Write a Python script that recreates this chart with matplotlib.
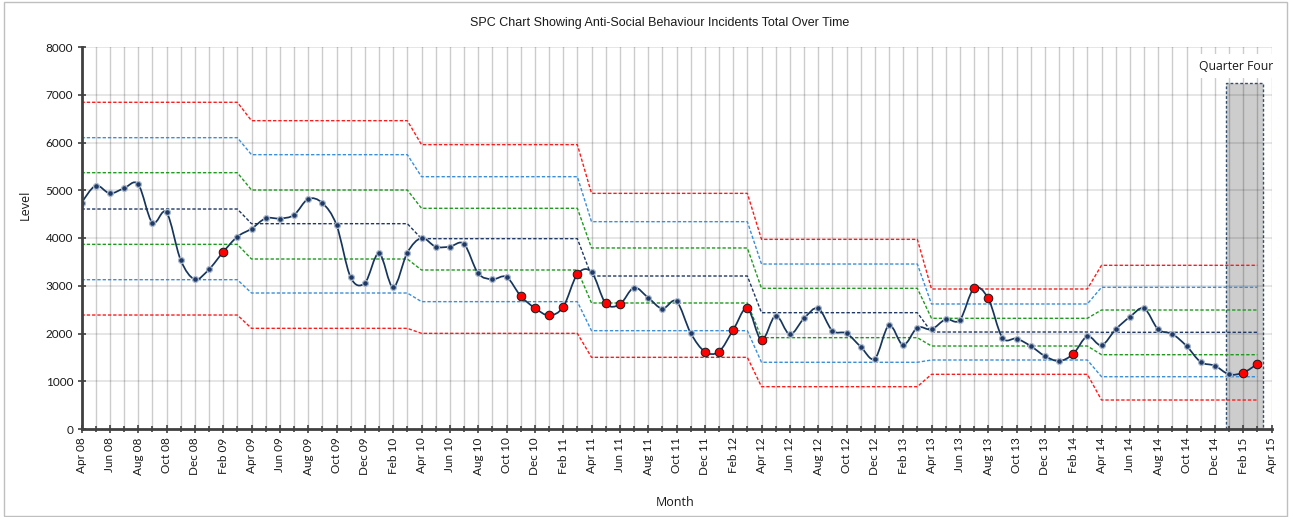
import numpy as np
import matplotlib
matplotlib.use("Agg")
import matplotlib.pyplot as plt
from matplotlib.path import Path
from matplotlib.patches import PathPatch, Rectangle

# ---------------- data ----------------
month_names = ["Apr", "Jun", "Aug", "Oct", "Dec", "Feb"]
tick_labels = []
for yr in range(8, 15):
    for m in month_names:
        y = yr + 1 if m == "Feb" else yr
        tick_labels.append(f"{m} {y:02d}")
tick_labels.append("Apr 15")

asb_total = [4740, 5095, 4935, 5040, 5125, 4320, 4537, 3540, 3135, 3344, 3707, 4027,
             4195, 4412, 4408, 4482, 4817, 4733, 4272, 3176, 3057, 3679, 2967, 3693,
             4000, 3818, 3818, 3874, 3260, 3135, 3183, 2785, 2534, 2380, 2555, 3240,
             3288, 2632, 2611, 2960, 2750, 2520, 2674, 2010, 1620, 1620, 2073, 2527,
             1864, 2373, 1983, 2318, 2527, 2059, 2003, 1724, 1473, 2171, 1759, 2122,
             2087, 2297, 2283, 2946, 2737, 1913, 1892, 1738, 1529, 1424, 1571, 1941,
             1753, 2087, 2346, 2527, 2087, 1990, 1738, 1403, 1326, 1145, 1180, 1361]

signal_idx = [10, 31, 32, 33, 34, 35, 37, 38, 44, 45, 46, 47, 48, 63, 64, 70, 82, 83]

# yearly control limits (Apr-Mar years 08/09 .. 14/15)
ucl  = [6842, 6457, 5955, 4935, 3972, 2932, 3428]
u2s  = [6101, 5745, 5284, 4342, 3455, 2618, 2967]
u1s  = [5368, 5005, 4622, 3791, 2946, 2318, 2492]
mean = [4607, 4300, 3986, 3204, 2436, 2031, 2025]
l1s  = [3867, 3560, 3330, 2639, 1913, 1738, 1556]
l2s  = [3127, 2848, 2667, 2059, 1397, 1445, 1095]
lcl  = [2387, 2108, 2003, 1501, 886, 1145, 607]

q4_center = 82.1
q4_width = 2.6
q4_height = 7250

# ---------------- figure ----------------
fig = plt.figure(figsize=(12.9, 5.17), dpi=100)
ax = fig.add_axes([81.5 / 1290, 1 - 429 / 517, (1271.5 - 81.5) / 1290, (429 - 47) / 517])

x = np.arange(len(asb_total))
vals = np.array(asb_total, dtype=float)

# Quarter four shaded column
ax.bar([q4_center], [q4_height], width=q4_width, color="#CDCDCD",
       edgecolor="#2F4F6F", linewidth=1.0, linestyle=(0, (2, 1.5)), zorder=0.5)

# gridlines
ax.set_xlim(0, 84)
ax.set_ylim(0, 8000)
ax.set_xticks(np.arange(0, 85, 2))
ax.set_xticks(np.arange(0, 85, 1), minor=True)
ax.set_xticklabels(tick_labels, rotation=90, fontsize=8.5, family=["Lato", "DejaVu Sans"])
ax.set_yticks(np.arange(0, 8001, 1000))
ax.set_yticklabels([str(v) for v in range(0, 8001, 1000)], fontsize=8.5,
                   family=["Lato", "DejaVu Sans"])
for xv in range(0, 85):
    ax.axvline(xv, color="black", alpha=0.2, lw=1.0, zorder=1)
for yv in range(1000, 8001, 1000):
    ax.axhline(yv, color="black", alpha=0.11, lw=1.3, zorder=1)

# control limit lines
dash = (0, (2.4, 1.4))
for arr, col in [(ucl, "#FF1A1A"), (u2s, "#3A8FD9"), (u1s, "#1E9A1E"),
                 (mean, "#1F3864"), (l1s, "#1E9A1E"), (l2s, "#3A8FD9"), (lcl, "#FF1A1A")]:
    ax.plot(x, np.repeat(arr, 12), color=col, lw=1.0, linestyle=dash, zorder=2)

# smoothed series line (Excel style Bezier)
verts = [(x[0], vals[0])]
codes = [Path.MOVETO]
n = len(vals)
for i in range(n - 1):
    p0 = np.array([x[max(i - 1, 0)], vals[max(i - 1, 0)]])
    p1 = np.array([x[i], vals[i]])
    p2 = np.array([x[i + 1], vals[i + 1]])
    p3 = np.array([x[min(i + 2, n - 1)], vals[min(i + 2, n - 1)]])
    c1 = p1 + (p2 - p0) / 6.0
    c2 = p2 - (p3 - p1) / 6.0
    verts += [tuple(c1), tuple(c2), tuple(p2)]
    codes += [Path.CURVE4] * 3
ax.add_patch(PathPatch(Path(verts, codes), facecolor="none", edgecolor="#17365D",
                       lw=1.25, zorder=3))

normal = [i for i in range(n) if i not in signal_idx]
ax.plot(x[normal], vals[normal], linestyle="none", marker="o", ms=4.2,
        mfc="#1F3864", mec="#A9B8CC", mew=0.9, zorder=4)
ax.plot(x[signal_idx], vals[signal_idx], linestyle="none", marker="o", ms=6.2,
        mfc="#FF0000", mec="#1A1A1A", mew=0.7, zorder=5)

# Quarter four label
ax.text(81.5, 7600, "Quarter Four", ha="center", va="center", fontsize=8.8,
        family=["Open Sans", "DejaVu Sans"], color="#1A1A1A",
        bbox=dict(facecolor="white", edgecolor="none", pad=4), zorder=6, clip_on=False)

# spines / ticks
for s in ["top", "right"]:
    ax.spines[s].set_visible(False)
for s in ["left", "bottom"]:
    ax.spines[s].set_color("#404040")
    ax.spines[s].set_linewidth(2.0)
    ax.spines[s].set_zorder(7)
ax.tick_params(axis="both", which="major", direction="inout", length=6, width=1.2,
               color="#404040", labelcolor="#1A1A1A", pad=3)
ax.tick_params(axis="x", which="minor", direction="inout", length=5, width=1.2, color="#404040")

# labels
fig.text(0.5116, 1 - 23 / 517, "SPC Chart Showing Anti-Social Behaviour Incidents Total Over Time",
         ha="center", va="center", fontsize=9, family=["Liberation Sans", "DejaVu Sans"],
         color="#1A1A1A")
fig.text(25 / 1290, 1 - 205 / 517, "Level", rotation=90, ha="center", va="center",
         fontsize=9, family=["Open Sans", "DejaVu Sans"], color="#1A1A1A")
fig.text(675 / 1290, 1 - 503 / 517, "Month", ha="center", va="center",
         fontsize=9, family=["Open Sans", "DejaVu Sans"], color="#1A1A1A")

# outer chart frame
fig.patches.append(Rectangle((3.5 / 1290, 1.5 / 517), (1287 - 3.5) / 1290, (515 - 1.5) / 517,
                             transform=fig.transFigure, fill=False, edgecolor="#BFBFBF",
                             lw=1.0))

fig.savefig("out.png", dpi=100)
